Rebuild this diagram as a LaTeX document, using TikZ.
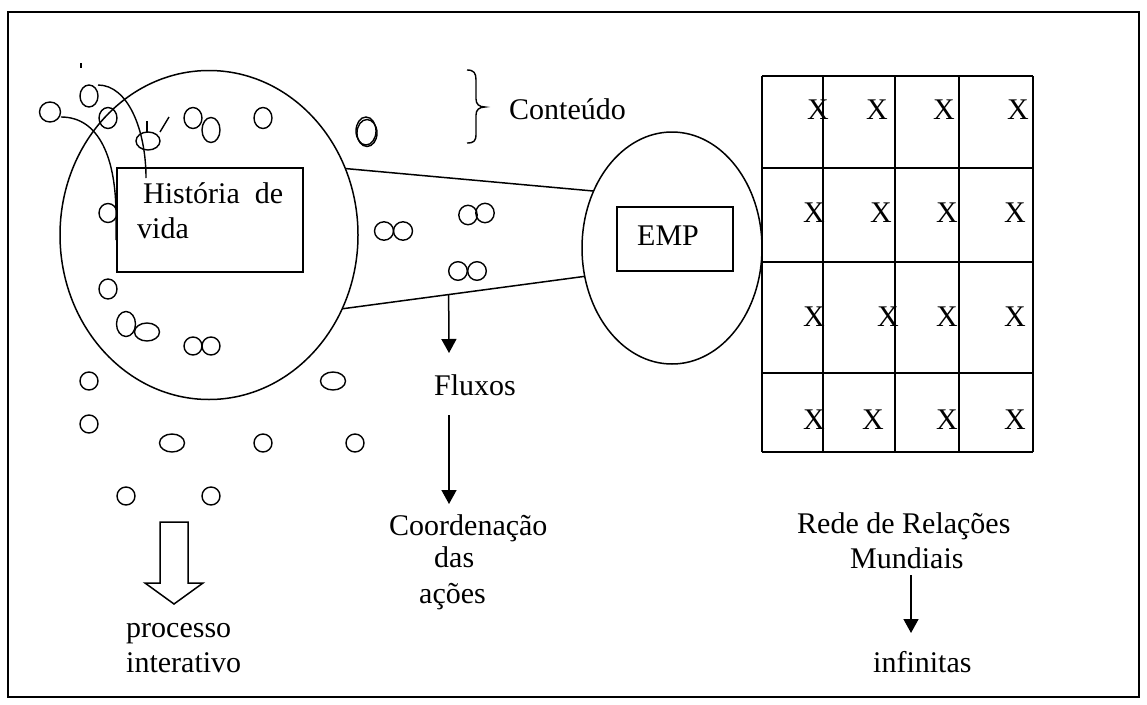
\documentclass[tikz,border=0pt]{standalone}
\usepackage{fontspec}
\setmainfont{Liberation Serif}
\usetikzlibrary{arrows.meta,shapes.geometric,calc}
\begin{document}
\begin{tikzpicture}[x=1pt,y=-1pt,
  txt/.style={anchor=base west,inner sep=0pt,font=\fontsize{30}{34}\selectfont},
  ln/.style={line width=1.5pt},
  blob/.style={line width=1.4pt},
  arr/.style={line width=1.5pt,-{Triangle[width=15pt,length=14pt]}},
  shapebox/.style={draw,ln,inner sep=0pt,outer sep=0pt},
]
\useasboundingbox (0,0) rectangle (1147,704);
\draw[line width=1.8pt] (8,12) rectangle (1139,697);

% big ellipse and life-history box
\node[shapebox,ellipse,minimum width=298pt,minimum height=329pt] (big) at (209,235) {};
\node[shapebox,rectangle,minimum width=186pt,minimum height=104pt] (hist) at (210,220) {};
\node[txt] (h1) at (143,203) {História\hspace{15pt}de};
\node[txt] (h2) at (137,238) {vida};

% EMP ellipse and box
\node[shapebox,ellipse,minimum width=180pt,minimum height=232pt] (emp) at (672,248) {};
\node[shapebox,rectangle,minimum width=116pt,minimum height=64pt] (empbox) at (675,239) {};
\node[txt] (empt) at (637,245) {EMP};

% connecting lines
\draw[ln] (big.26) -- (emp.144.5);
\draw[ln] (big.-29.5) -- (emp.198.4);

% Fluxos chain
\coordinate (f0) at ($(big.-29.5)!0.439!(emp.198.4)$);
\coordinate (f1) at (449,353);
\coordinate (f2) at (449,415);
\coordinate (f3) at (449,504);
\node[txt] (flux) at (434,395) {Fluxos};
\draw[arr] (f0) -- (f1);
\draw[arr] (f2) -- (f3);
\node[txt] (c1) at (389,535) {Coordenação};
\node[txt] (c2) at (434,567) {das};
\node[txt] (c3) at (419,603) {ações};

% brace and Conteudo
\draw[line width=1.4pt] (467,70) .. controls (474,70) and (476,73) .. (476,80) -- (476,99)
  .. controls (476,104) and (479,107) .. (485,107)
  .. controls (479,107) and (476,110) .. (476,115) -- (476,134)
  .. controls (476,141) and (474,143) .. (467,143);
\node[txt] (cont) at (509,119) {Conteúdo};

% grid
\foreach \yy in {76,168,262,373,452} \draw[ln] (762,\yy) -- (1033,\yy);
\foreach \xx in {762,823,895,959,1033} \draw[ln] (\xx,76) -- (\xx,452);
\node[txt] (x11) at (807,119) {X};
\node[txt] (x12) at (866,119) {X};
\node[txt] (x13) at (933,119) {X};
\node[txt] (x14) at (1007,119) {X};
\node[txt] (x21) at (803,222) {X};
\node[txt] (x22) at (870,222) {X};
\node[txt] (x23) at (936,222) {X};
\node[txt] (x24) at (1004,222) {X};
\node[txt] (x31) at (803,326) {X};
\node[txt] (x32) at (877,326) {X};
\node[txt] (x33) at (936,326) {X};
\node[txt] (x34) at (1004,326) {X};
\node[txt] (x41) at (803,429) {X};
\node[txt] (x42) at (862,429) {X};
\node[txt] (x43) at (936,429) {X};
\node[txt] (x44) at (1004,429) {X};

% Rede de Relacoes
\node[txt] (rede) at (797,533) {Rede de Relações};
\node[txt] (mund) at (850,568) {Mundiais};
\coordinate (r0) at (911,575);
\coordinate (r1) at (911,633);
\draw[arr] (r0) -- (r1);
\node[txt] (inf) at (873,672) {infinitas};

% hollow arrow and processo interativo
\draw[ln,line join=miter] (160,522) -- (188,522) -- (188,583) -- (203,583) -- (174,604) -- (145,583) -- (160,583) -- cycle;
\node[txt] (proc) at (126,637) {processo};
\node[txt] (inter) at (126,672) {interativo};

% small blobs
\foreach \cx/\cy/\rx/\ry in {50/112/10.5/10, 89/96/9/11, 108/118/9/10.5, 148/141/12/9,
  193/118/9/10.5, 211/130/9/12.5, 263/118/9/10.5, 366/131/10/14, 367/133/10/13.5,
  384/231/9.5/9.2, 403/231/9.5/9.2, 468/215/9.2/9.7, 485/213/9.2/9.7,
  458/271/9.3/9.3, 477/271/9.3/9.3, 108/213/9/9.5, 108/289/9/10, 126/324/9.5/12.5,
  147/332/12.5/9, 193/346/9/9, 211/346/9/9, 89/381/9/9, 333/381/12.5/9, 89/424/9/9,
  172/443/12.5/9, 263/443/9/9, 355/443/9/9, 126/496/9/9, 211/496/9/9}
  \draw[blob] (\cx,\cy) ellipse [x radius=\rx pt, y radius=\ry pt];

% curves and ticks
\draw[blob] (61,117) .. controls (100,117) and (116,160) .. (116,215) -- (116,240);
\draw[blob] (98,85) .. controls (128,85) and (146,130) .. (146,178);
\draw[blob] (147,121) -- (147,133);
\draw[blob] (169,117) -- (160,132);
\draw[line width=1.2pt] (81,63) -- (81,68);
\end{tikzpicture}
\end{document}
